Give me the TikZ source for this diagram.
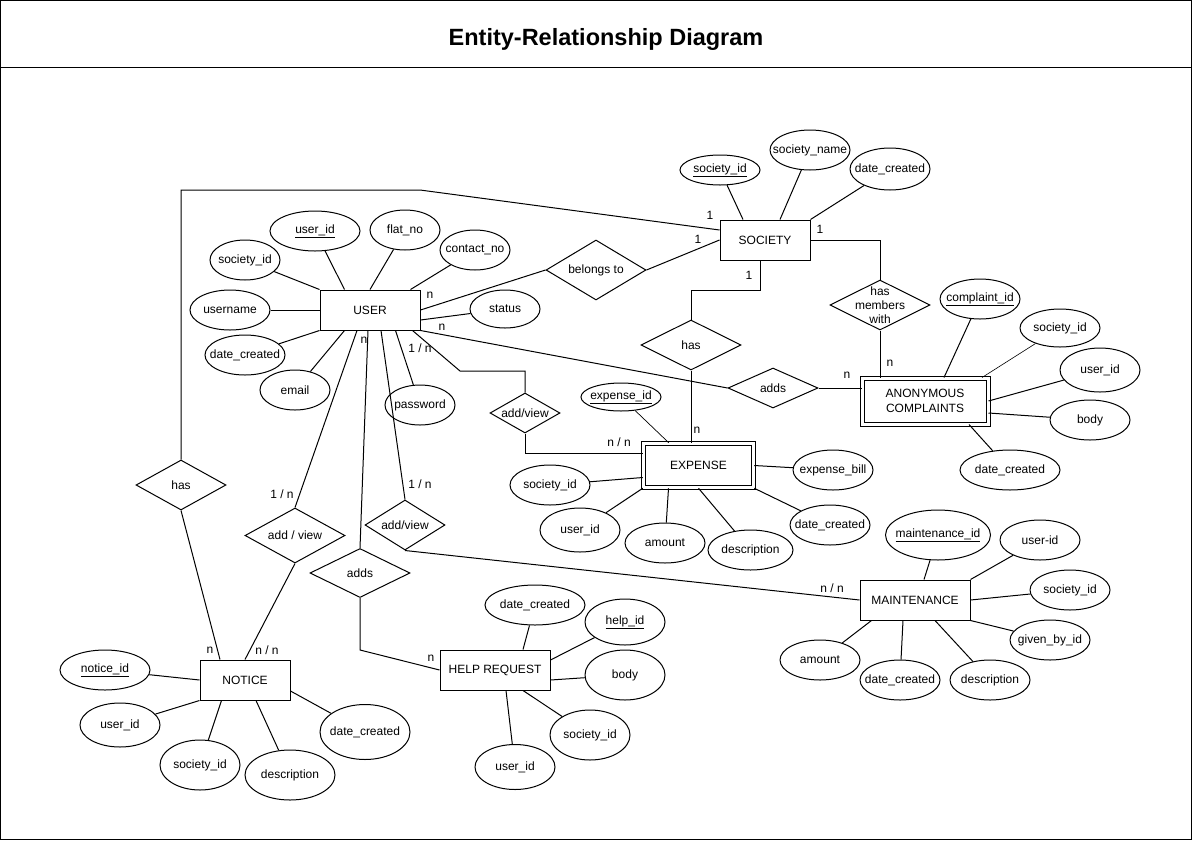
\documentclass[tikz,border=0pt]{standalone}
\usepackage{fontspec}
\setmainfont{Liberation Sans}
\usetikzlibrary{shapes.geometric}
\begin{document}
\begin{tikzpicture}[x=1pt,y=-1pt,line width=1pt,font=\fontsize{12}{14}\selectfont,
  ent/.style={draw,rectangle,inner sep=0pt,align=center},
  wk/.style={draw,double,double distance=3pt,rectangle,inner sep=0pt,align=center},
  attr/.style={draw,ellipse,inner sep=0pt,label={center:#1}},
  rel/.style={draw,diamond,inner sep=0pt,label={[align=center]center:#1}},
  card/.style={inner sep=0pt},
  sz/.style 2 args={minimum width=#1,minimum height=#2}]
\useasboundingbox (0,0) rectangle (1193,841);
\draw (0.5,0.5) rectangle (1191.5,839.5);
\draw (0.5,67.5) -- (1191.5,67.5);
\node[font=\bfseries\fontsize{23.5}{28}\selectfont,anchor=base] (title) at (606,45) {Entity-Relationship Diagram};

% entities
\node[ent,sz={100}{40}] (user) at (370,310) {USER};
\node[ent,sz={90}{40}] (society) at (765,240) {SOCIETY};
\node[wk,sz={126}{46},font=\fontsize{12}{15}\selectfont] (compl) at (925,401) {ANONYMOUS\\COMPLAINTS};
\node[wk,sz={110.5}{44.5}] (expense) at (698.5,465.5) {EXPENSE};
\node[ent,sz={110}{40}] (maint) at (915,600) {MAINTENANCE};
\node[ent,sz={90}{40}] (notice) at (245,680) {NOTICE};
\node[ent,sz={110}{40}] (help) at (495,670) {HELP REQUEST};

% relationships
\node[rel={belongs to},sz={100}{60}] (bt) at (596,270) {};
\node[rel={has},sz={100}{50}] (hasx) at (691,345) {};
\node[rel={has\\members\\with},sz={100}{50}] (hasm) at (880,305) {};
\node[rel={adds},sz={90}{40}] (addsc) at (773,388) {};
\node[rel={add/view},sz={70}{40}] (avexp) at (525,413) {};
\node[rel={has},sz={90}{50}] (hasl) at (181,485) {};
\node[rel={add / view},sz={100}{55}] (avnot) at (295,535.5) {};
\node[rel={adds},sz={100}{49}] (addh) at (360,573) {};
\node[rel={add/view},sz={80}{50}] (avm) at (405,525) {};

% user attributes
\node[attr={\underline{user\_id}},sz={90}{40}] (uid) at (315,231) {};
\node[attr={flat\_no},sz={70}{40}] (flat) at (405,230) {};
\node[attr={contact\_no},sz={70}{40}] (contact) at (475,250) {};
\node[attr={society\_id},sz={70}{40}] (usocid) at (245,260) {};
\node[attr={username},sz={80}{40}] (uname) at (230,310) {};
\node[attr={date\_created},sz={80}{40}] (udate) at (245,355) {};
\node[attr={email},sz={70}{40}] (email) at (295,390) {};
\node[attr={password},sz={70}{40}] (pwd) at (420,405) {};
\node[attr={status},sz={70}{38}] (status) at (505,309) {};

% society attributes
\node[attr={\underline{society\_id}},sz={80}{30}] (ssid) at (720,170) {};
\node[attr={society\_name},sz={80}{40}] (sname) at (810,150) {};
\node[attr={date\_created},sz={80}{42}] (sdate) at (890,169) {};

% complaint attributes
\node[attr={\underline{complaint\_id}},sz={80}{40}] (cid) at (980,299) {};
\node[attr={society\_id},sz={80}{38}] (csoc) at (1060,328) {};
\node[attr={user\_id},sz={80}{44}] (cuid) at (1100,370) {};
\node[attr={body},sz={80}{40}] (cbody) at (1090,420) {};
\node[attr={date\_created},sz={100}{40}] (cdate) at (1010,470) {};

% expense attributes
\node[attr={\underline{expense\_id}},sz={80}{28}] (expid) at (621,397) {};
\node[attr={expense\_bill},sz={80}{40}] (ebill) at (833,470) {};
\node[attr={society\_id},sz={80}{40}] (esoc) at (550,485) {};
\node[attr={user\_id},sz={80}{44}] (euid) at (580,530) {};
\node[attr={amount},sz={80}{40}] (eamt) at (665,543) {};
\node[attr={description},sz={85}{40}] (edesc) at (750.5,550) {};
\node[attr={date\_created},sz={80}{40}] (edate) at (830,525) {};

% maintenance attributes
\node[attr={\underline{maintenance\_id}},sz={105}{50}] (mid) at (938,535) {};
\node[attr={user-id},sz={80}{40}] (muid) at (1040,540) {};
\node[attr={society\_id},sz={80}{40}] (msoc) at (1070,590) {};
\node[attr={given\_by\_id},sz={80}{40}] (mgiv) at (1050,640) {};
\node[attr={amount},sz={80}{40}] (mamt) at (820,660) {};
\node[attr={date\_created},sz={80}{40}] (mdate) at (900,680) {};
\node[attr={description},sz={80}{40}] (mdesc) at (990,680) {};

% notice attributes
\node[attr={\underline{notice\_id}},sz={90}{40}] (nid) at (105,670) {};
\node[attr={user\_id},sz={80}{44}] (nuid) at (120,725) {};
\node[attr={society\_id},sz={80}{50}] (nsoc) at (200,765) {};
\node[attr={description},sz={90}{50}] (ndesc) at (290,775) {};
\node[attr={date\_created},sz={90}{55}] (ndate) at (365,732) {};

% help attributes
\node[attr={date\_created},sz={100}{40}] (hdate) at (535,605) {};
\node[attr={\underline{help\_id}},sz={80}{46}] (hid) at (625,622) {};
\node[attr={body},sz={80}{50}] (hbody) at (625,675) {};
\node[attr={society\_id},sz={80}{50}] (hsoc) at (590,735) {};
\node[attr={user\_id},sz={80}{45}] (huid) at (515,767) {};

% attribute links
\draw (usocid) -- (user.north west);
\draw (uid) -- ([xshift=25pt]user.north west);
\draw (flat) -- (user.north);
\draw (contact) -- ([xshift=-10pt]user.north east);
\draw (uname) -- (user.west);
\draw (udate) -- (user.south west);
\draw (email) -- ([xshift=25pt]user.south west);
\draw (pwd) -- ([xshift=-25pt]user.south east);
\draw (status) -- ([yshift=-10pt]user.east);

\draw (ssid) -- ([xshift=-22pt]society.north);
\draw (sname) -- ([xshift=15pt]society.north);
\draw (sdate) -- (society.north east);

\draw (cid) -- ([xshift=19pt]compl.north);
\draw[line width=0.6pt] (csoc) -- ([xshift=57pt]compl.north);
\draw (cuid) -- (compl.east);
\draw (cbody) -- ([yshift=-12pt]compl.east);
\draw (cdate) -- ([xshift=44pt]compl.south);

\draw[line width=0.7pt] (expid) -- ([xshift=26pt]expense.north west);
\draw (ebill) -- (expense.east);
\draw (esoc) -- ([yshift=-12pt]expense.west);
\draw (euid) -- (expense.south west);
\draw (eamt) -- ([xshift=-30pt]expense.south);
\draw (edesc) -- (expense.south);
\draw (edate) -- (expense.south east);

\draw (mid) -- ([xshift=9pt]maint.north);
\draw (muid) -- (maint.north east);
\draw (msoc) -- (maint.east);
\draw (mgiv) -- (maint.south east);
\draw (mamt) -- ([xshift=12pt]maint.south west);
\draw (mdate) -- ([xshift=-12pt]maint.south);
\draw (mdesc) -- ([xshift=20pt]maint.south);

\draw (nid) -- (notice.west);
\draw (nuid) -- (notice.south west);
\draw (nsoc) -- ([xshift=22pt]notice.south west);
\draw (ndesc) -- ([xshift=11pt]notice.south);
\draw (ndate) -- ([yshift=-11pt]notice.east);

\draw (hdate) -- ([xshift=28pt]help.north);
\draw (hid) -- ([yshift=10pt]help.east);
\draw (hbody) -- ([yshift=-10pt]help.east);
\draw (hsoc) -- ([xshift=28pt]help.south);
\draw (huid) -- ([xshift=11pt]help.south);

% relationship links
\draw (user.east) -- (bt.west);
\draw (bt.east) -- (society.west);
\draw ([yshift=10pt]society.west) -- (420,190) -- (181,190) -- (hasl.north);
\draw (hasl.south) -- ([xshift=-25pt]notice.north);
\draw (society.east) -| (hasm.north);
\draw (hasm.south) -- (hasm.south |- compl.north);
\draw ([xshift=-5pt]society.south) -- (760,290) -| (hasx.north);
\draw (hasx.south) -- (hasx.south |- expense.north);
\draw (user.south east) -- (addsc.west);
\draw (addsc.east) -- (addsc.east -| compl.west);
\draw ([xshift=-8pt]user.south east) -- (460,371) -| (avexp.north);
\draw (avexp.south) |- ([yshift=12.5pt]expense.west);
\draw ([xshift=-13pt]user.south) -- (avnot.north);
\draw (avnot.south) -- (notice.north);
\draw ([xshift=-2pt]user.south) -- (addh.north);
\draw (addh.south) -- (360,650) -- (help.west);
\draw ([xshift=11pt]user.south) -- (avm.north);
\draw (avm.south) -- (maint.west);

% cardinalities
\node[card] (c1) at (430,295) {n};
\node[card] (c2) at (442,327) {n};
\node[card] (c3) at (420,348) {1 / n};
\node[card] (c4) at (364,340) {n};
\node[card] (c5) at (710,215) {1};
\node[card] (c6) at (698,239) {1};
\node[card] (c7) at (820,229) {1};
\node[card] (c8) at (749,275) {1};
\node[card] (c9) at (890,363) {n};
\node[card] (c10) at (847,375) {n};
\node[card] (c11) at (697,430) {n};
\node[card] (c12) at (619,442) {n / n};
\node[card] (c13) at (282,494) {1 / n};
\node[card] (c14) at (420,484) {1 / n};
\node[card] (c15) at (210,650) {n};
\node[card] (c16) at (267,650) {n / n};
\node[card] (c17) at (431,658) {n};
\node[card] (c18) at (832,588) {n / n};
\end{tikzpicture}
\end{document}
